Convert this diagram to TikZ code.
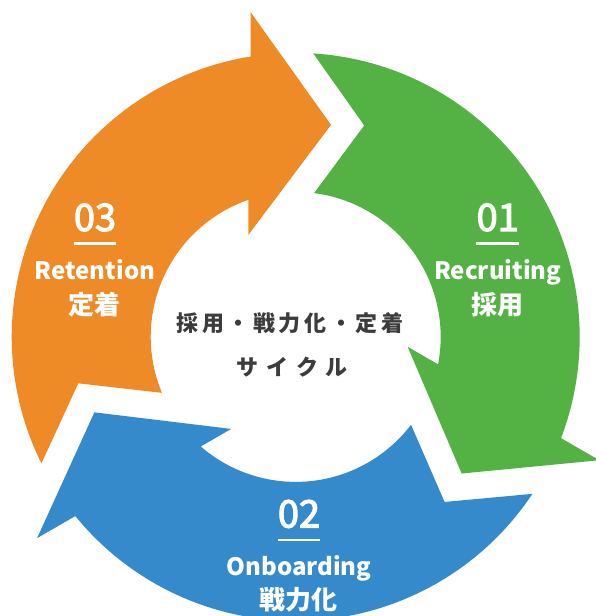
\documentclass[tikz,border=0pt]{standalone}
\usepackage{fontspec}
\setmainfont{Noto Sans CJK JP}
\usetikzlibrary{calc}
\definecolor{cycorange}{HTML}{EE8B26}
\definecolor{cycgreen}{HTML}{53B243}
\definecolor{cycblue}{HTML}{358ACB}
\definecolor{cycgray}{HTML}{3C3C3C}
\tikzset{every node/.style={inner sep=0pt, anchor=base},
         stepnum/.style={text=white, font=\fontsize{38}{38}\selectfont\addfontfeature{FakeBold=3}},
         stepen/.style={text=white, font=\fontsize{24}{24}\selectfont\bfseries},
         stepja/.style={text=white, font=\fontsize{26}{26}\selectfont\bfseries},
         stepline/.style={white, line width=2.6pt},
         cyctext/.style={text=cycgray, font=\fontsize{22}{22}\selectfont\bfseries\addfontfeature{LetterSpace=#1}}}

\begin{document}
\begin{tikzpicture}
		\useasboundingbox (-295.7pt,-279.1pt) rectangle (300.3pt,336.9pt);
		% the three arrows of the cycle
		\foreach \rot/\col in {0/cycorange,-120/cycgreen,120/cycblue}
		\fill[\col, rotate=\rot] (206.45:284pt) arc[start angle=206.45, end angle=99.12, radius=284pt]
		-- (97.89:327.7pt) -- (80.54:215pt) -- (114.95:112.4pt) -- (109.1:145pt)
		arc[start angle=109.1, end angle=202.7, radius=145pt] -- (192.05:222.3pt) -- cycle;
		% 01
		\node[stepnum] (n01) at (202pt,105.9pt) {01};
		\draw[stepline] ([yshift=-12pt]n01.south west) -- ([yshift=-12pt]n01.south east);
		\node[stepen] (en01) at (202pt,56.9pt) {Recruiting};
		\node[stepja] (ja01) at (202pt,22pt) {採用};
		% 02
		\node[stepnum] (n02) at (3.3pt,-190.6pt) {02};
		\draw[stepline] ([yshift=-12pt]n02.south west) -- ([yshift=-12pt]n02.south east);
		\node[stepen] (en02) at (3.3pt,-238.1pt) {Onboarding};
		\node[stepja] (ja02) at (3.3pt,-272.5pt) {戦力化};
		% 03
		\node[stepnum] (n03) at (-200.7pt,105.9pt) {03};
		\draw[stepline] ([yshift=-12pt]n03.south west) -- ([yshift=-12pt]n03.south east);
		\node[stepen] (en03) at (-200.7pt,56.9pt) {Retention};
		\node[stepja] (ja03) at (-200.7pt,22pt) {定着};
		% center
		\node[cyctext=16] (cyc1) at (-5.7pt,5.4pt) {採用・戦力化・定着};
		\node[cyctext=38] (cyc2) at (-3.7pt,-38.6pt) {サイクル};
	\end{tikzpicture}
\end{document}
